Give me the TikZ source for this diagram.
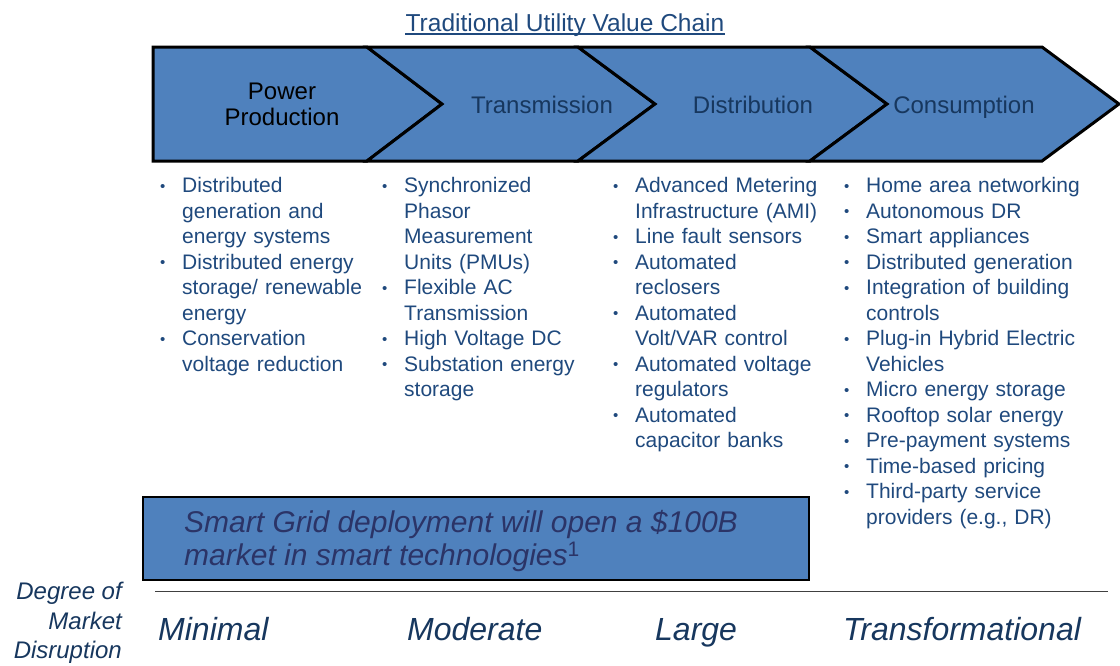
\documentclass[tikz,border=0pt]{standalone}
\usepackage{fontspec}
\setmainfont{Liberation Sans}
\definecolor{chev}{HTML}{4F81BD}
\definecolor{navy}{HTML}{1F497D}
\definecolor{deep}{HTML}{17375E}
\definecolor{boxtext}{HTML}{2B3467}
% bullet item with hanging indent; \nl breaks a line inside the item
\newcommand\bitem{\par\noindent\hangindent=23pt\hangafter=1\makebox[23pt][l]{\hspace{1pt}\raisebox{1.5pt}{\fontsize{15}{15}\selectfont\textbullet}}}
\newcommand\nl{\break}
\begin{document}
\begin{tikzpicture}[x=1pt,y=-1pt,
  chevron/.style={fill=chev,draw=black,line width=3pt,line join=miter},
  stage/.style={font=\fontsize{24}{26}\selectfont,color=deep,align=center,inner sep=0},
  bullets/.style={anchor=north west,inner sep=0,text width=260pt,align=left,
    font=\fontsize{21}{25.5}\selectfont,color=navy},
  level/.style={anchor=base west,inner sep=0,font=\fontsize{32}{36}\selectfont\itshape,color=deep}]
\useasboundingbox (0,0) rectangle (1120,665);

% title
\node[inner sep=0,font=\fontsize{24.5}{28}\selectfont,color=navy,anchor=base] (title) at (565,31) {Traditional Utility Value Chain};
\draw[navy,line width=1.2pt] ([yshift=-3pt]title.base west) -- ([yshift=-3pt]title.base east);

% value chain chevrons
\draw[chevron] (153,47) -- (367,47) -- (442,104) -- (367,161) -- (153,161) -- cycle;
\draw[chevron] (367,47) -- (578,47) -- (655,104) -- (578,161) -- (367,161) -- (442,104) -- cycle;
\draw[chevron] (578,47) -- (810,47) -- (887,104) -- (810,161) -- (578,161) -- (655,104) -- cycle;
\draw[chevron] (810,47) -- (1042,47) -- (1119,104) -- (1042,161) -- (810,161) -- (887,104) -- cycle;

\node[stage,color=black] (prod) at (282,104) {Power\\Production};
\node[stage,anchor=base] (trans) at (542,113) {Transmission};
\node[stage,anchor=base] (dist) at (753,113) {Distribution};
\node[stage,anchor=base] (cons) at (964,113) {Consumption};

% technologies per stage
\node[bullets] (col1) at (159,167) {%
\bitem Distributed\nl generation and\nl energy systems
\bitem Distributed energy\nl storage/ renewable\nl energy
\bitem Conservation\nl voltage reduction\par};
\node[bullets] (col2) at (381,167) {%
\bitem Synchronized\nl Phasor\nl Measurement\nl Units (PMUs)
\bitem Flexible AC\nl Transmission
\bitem High Voltage DC
\bitem Substation energy\nl storage\par};
\node[bullets] (col3) at (612,167) {%
\bitem Advanced Metering\nl Infrastructure (AMI)
\bitem Line fault sensors
\bitem Automated\nl reclosers
\bitem Automated\nl Volt/VAR control
\bitem Automated voltage\nl regulators
\bitem Automated\nl capacitor banks\par};
\node[bullets] (col4) at (843,167) {%
\bitem Home area networking
\bitem Autonomous DR
\bitem Smart appliances
\bitem Distributed generation
\bitem Integration of building\nl controls
\bitem Plug-in Hybrid Electric\nl Vehicles
\bitem Micro energy storage
\bitem Rooftop solar energy
\bitem Pre-payment systems
\bitem Time-based pricing
\bitem Third-party service\nl providers (e.g., DR)\par};

% market callout
\draw[fill=chev,draw=black,line width=2.5pt] (143,497) rectangle (809,580);
\node[anchor=west,inner sep=0,align=left,font=\fontsize{30}{33}\selectfont\itshape,color=boxtext] (market) at (184,541)
  {Smart Grid deployment will open a \$100B\\market in smart technologies\textsuperscript{\upshape 1}};

% disruption scale
\draw[black!75,line width=1pt] (155,591) -- (1108,591);
\node[anchor=north east,inner sep=0,align=right,font=\fontsize{24}{29.5}\selectfont\itshape,color=deep] (degree) at (122,582)
  {Degree of\\Market\\Disruption};
\node[level] (minimal) at (158,640) {Minimal};
\node[level] (moderate) at (407,640) {Moderate};
\node[level] (large) at (655,640) {Large};
\node[level] (transf) at (843,640) {Transformational};
\end{tikzpicture}
\end{document}
